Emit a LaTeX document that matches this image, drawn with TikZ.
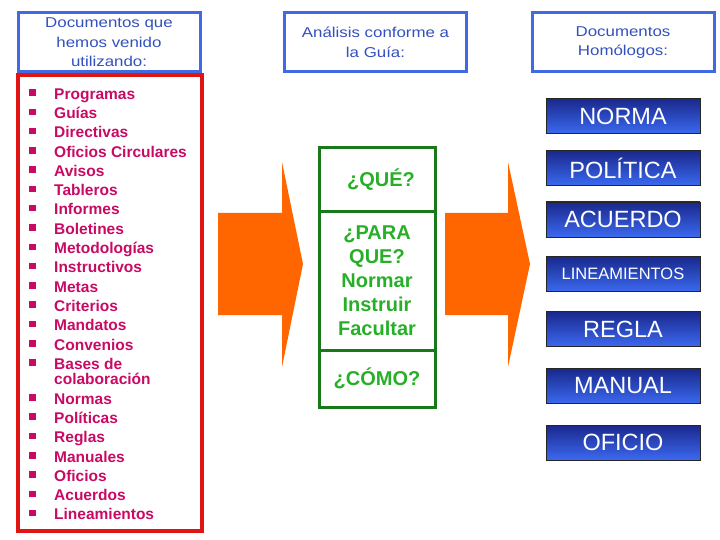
\documentclass[tikz,border=0pt]{standalone}
\usepackage{fontspec}
\setmainfont{Liberation Sans}
\newfontfamily\ancho{Liberation Sans}[FakeStretch=1.18]
\usepackage{xcolor}
\usepackage{tikz}
\usetikzlibrary{positioning}
\definecolor{tituloazul}{RGB}{65,105,225}
\definecolor{textoazul}{RGB}{50,80,190}
\definecolor{rojo}{RGB}{225,20,20}
\definecolor{listacolor}{RGB}{200,10,100}
\definecolor{verdeborde}{RGB}{25,120,25}
\definecolor{verdetexto}{RGB}{40,175,40}
\definecolor{naranja}{RGB}{255,102,0}
\definecolor{botonarriba}{RGB}{25,40,140}
\definecolor{botonabajo}{RGB}{60,105,240}
\newcommand{\vinieta}{\raisebox{3.5pt}{\rule{7pt}{6.5pt}}}

\begin{document}
\begin{tikzpicture}[x=1pt, y=-1pt,
  titulo/.style={rectangle, draw=tituloazul, line width=3pt, text=textoazul,
    minimum width=182pt, minimum height=59pt, inner sep=0pt, align=center,
    font=\ancho\fontsize{14.3}{19.5}\selectfont},
  pregunta/.style={rectangle, draw=verdeborde, line width=3pt, text=verdetexto,
    minimum width=116pt, inner sep=0pt, align=center,
    font=\bfseries\fontsize{20}{24}\selectfont},
  boton/.style={rectangle, draw=black!85, line width=0.8pt, top color=botonarriba,
    bottom color=botonabajo, text=white, minimum width=154pt, minimum height=35pt,
    inner sep=0pt, font=\fontsize{23.5}{26}\selectfont},
  flecha/.style={fill=naranja}]

\useasboundingbox (0,0) rectangle (720,540);

% --- Titles ---
\node[titulo] (usados) at (109,42.5) {Documentos que\\ hemos venido\\ utilizando:};
\node[titulo] (analisis) at (375.5,42.5) {Análisis conforme a\\ la Guía:};
\node[titulo] (homologos) at (623,42.5) {Documentos\\ Homólogos:};

% --- List of documents ---
\node[rectangle, draw=rojo, line width=3.5pt, minimum width=184pt, minimum height=456pt]
  (marco) at (110,303) {};
\node[anchor=north west, inner sep=0pt, text=listacolor,
  font=\bfseries\fontsize{15.5}{15.5}\selectfont] (lista) at (28.5,85.5)
{\renewcommand{\arraystretch}{1.245}%
\begin{tabular}{@{}l@{\hspace{18.5pt}}p{145pt}@{}}
\vinieta & Programas\\
\vinieta & Guías\\
\vinieta & Directivas\\
\vinieta & Oficios Circulares\\
\vinieta & Avisos\\
\vinieta & Tableros\\
\vinieta & Informes\\
\vinieta & Boletines\\
\vinieta & Metodologías\\
\vinieta & Instructivos\\
\vinieta & Metas\\
\vinieta & Criterios\\
\vinieta & Mandatos\\
\vinieta & Convenios\\
\vinieta & Bases de\newline colaboración\\
\vinieta & Normas\\
\vinieta & Políticas\\
\vinieta & Reglas\\
\vinieta & Manuales\\
\vinieta & Oficios\\
\vinieta & Acuerdos\\
\vinieta & Lineamientos\\
\end{tabular}};

% --- Arrows ---
\fill[flecha] (218,213) -- (282,213) -- (282,162) -- (303,264) -- (282,367)
  -- (282,315) -- (218,315) -- cycle;
\fill[flecha] (445,213) -- (508,213) -- (508,162) -- (530,264) -- (508,367)
  -- (508,315) -- (445,315) -- cycle;

% --- Questions ---
\node[pregunta, minimum height=64pt] (que) at (377,180) {\hspace{8pt}¿QUÉ?};
\node[pregunta, minimum height=138pt, below=-3pt of que] (para)
  {¿PARA\\ QUE?\\ Normar\\ Instruir\\ Facultar};
\node[pregunta, minimum height=57pt, below=-3pt of para] (como) {¿CÓMO?};

% --- Homologous documents ---
\node[boton] (norma) at (623,116) {NORMA};
\node[boton] (politica) at (623,168) {POLÍTICA};
\node[boton] (acuerdo) at (623,219.5) {ACUERDO};
\node[boton, font=\fontsize{16.5}{18}\selectfont] (lineamientos) at (623,274) {LINEAMIENTOS};
\node[boton] (regla) at (623,329) {REGLA};
\node[boton] (manual) at (623,386) {MANUAL};
\node[boton] (oficio) at (623,442.5) {OFICIO};

\end{tikzpicture}
\end{document}
